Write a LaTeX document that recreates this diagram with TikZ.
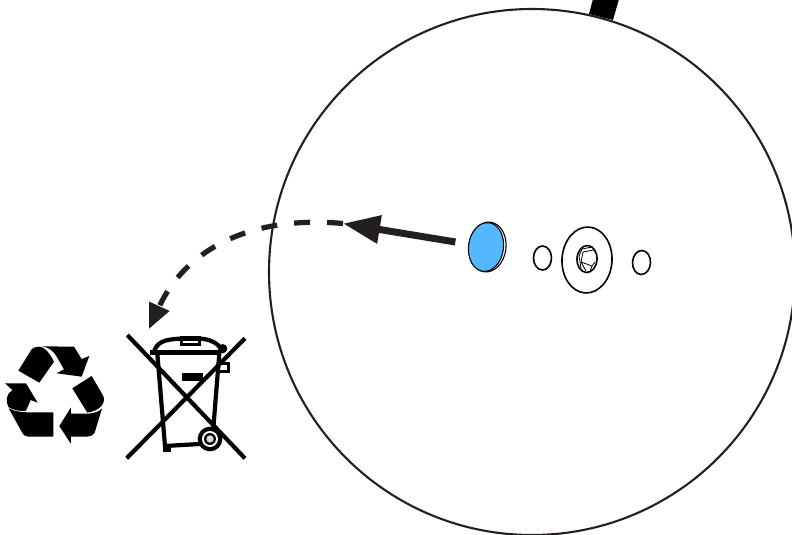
\documentclass[tikz,border=0pt]{standalone}
\usepackage{tikz}
\usetikzlibrary{positioning, arrows.meta, shapes.geometric}
\definecolor{inkdark}{HTML}{231F20}
\definecolor{capblue}{HTML}{53B8FF}

\begin{document}
\begin{tikzpicture}[
    x=1pt, y=-1pt,
    ring/.style={ellipse, draw=black, line width=1.6pt, inner sep=0pt, fill=white},
    caprim/.style={ring, line width=1.1pt},
    capface/.style={ring, line width=1.1pt, fill=capblue},
    pushline/.style={draw=inkdark, line width=7pt, -{Triangle[length=37pt, width=27pt]}},
    dropline/.style={draw=inkdark, line width=5.2pt, dash pattern=on 16pt off 17pt,
        -{Triangle[length=25pt, width=21pt]}},
    binline/.style={line width=4.2pt, line cap=butt, line join=miter},
    iconpart/.style={fill=black, draw=none}
]
\useasboundingbox (0,0) rectangle (792,535);
\clip (0,0) rectangle (792,535);

\draw[line width=2.1pt, draw=inkdark] (532,272) circle (263);
\fill[black] (593,-1) -- (619,-1) -- (613,20) -- (589,14) -- cycle;

\node[caprim, minimum width=37pt, minimum height=50pt, rotate=-7] (caprim) at (487.5,247) {};
\node[capface, minimum width=35pt, minimum height=49pt, rotate=-7] (cap) at (486,247) {};
\node[ring, minimum width=18pt, minimum height=24pt] (oringa) at (542.5,258) {};
\node[ring, minimum width=50pt, minimum height=66pt, rotate=-3] (washer) at (587,260) {};
\node[ring, minimum width=20pt, minimum height=27pt, rotate=-3] (bolt) at (587,259) {};
\node[ring, minimum width=18pt, minimum height=24pt, rotate=-3] (oringb) at (641.5,262.5) {};

\draw[line width=0.8pt] (582,249) -- (592,247) -- (596,253) (582,249) -- (579,256) (579,256) -- (581,268);
\draw[line width=0.8pt] (583,252) -- (594,250) (583,252) -- (581,262) -- (586,271) (581,262) -- (592,266) -- (595,262);
\draw[line width=0.8pt] (592,266) -- (590,271);

\coordinate (turn) at (343,223.5);
\coordinate (bintop) at (149,329);

\draw[pushline, shorten <=13pt] (cap) -- (turn);
\draw[dropline] (turn) .. controls (250,215) and (185,250) .. (bintop);

\begin{scope}[shift={(0,320)}, x=0.3333pt, y=-0.3333pt]
% recycling arrows
\path[iconpart] (55,152) -- (95,88) .. controls (103,80) and (115,79) .. (125,81)
    .. controls (140,88) and (152,105) .. (162,125) -- (118,188) -- cycle;
\path[iconpart] (127,79) -- (222,80) -- (245,117) -- (268,108) -- (245,170) -- (170,160)
    -- (192,148) -- (170,110) .. controls (160,92) and (148,84) .. (127,79) -- cycle;
\path[iconpart] (217,205) -- (275,168) -- (310,228) .. controls (318,250) and (300,272) .. (262,278) -- cycle;
\path[iconpart] (306,266) .. controls (292,278) and (275,281) .. (262,281) -- (213,281) -- (213,262)
    -- (178,318) -- (213,372) -- (213,350) -- (262,350) .. controls (272,350) and (280,345) .. (284,338) -- cycle;
\path[iconpart] (15,190) -- (78,190) -- (113,248) -- (92,240) -- (78,272)
    .. controls (60,275) and (40,270) .. (26,262) .. controls (15,240) and (20,222) .. (37,210) -- cycle;
\path[iconpart] (26,265) .. controls (45,275) and (65,277) .. (90,277) -- (160,277) -- (160,350) -- (85,350)
    .. controls (75,350) and (70,345) .. (65,335) -- cycle;

% crossed out bin
\draw[binline] (382,45) -- (735,415);
\draw[binline] (380,415) -- (735,55);
\draw[binline] (472,100) -- (495,378) -- (600,372);
\draw[binline] (658,100) -- (640,325);
\draw[binline, line width=5pt] (450,96) -- (662,96);
\draw[binline] (462,96) .. controls (470,68) and (490,58) .. (540,56) -- (605,56)
    .. controls (640,60) and (660,75) .. (668,96);
\draw[line width=3pt] (545,52) rectangle (600,72);
\fill[black] (668,86) circle (14);
\draw[line width=2.6pt] (657,130) -- (685,130) -- (685,155) -- (657,155);
\fill[black] (547,160) rectangle (610,182);
\fill[black] (490,375) rectangle (512,397);
\fill[black] (630,357) circle (37);
\fill[white] (630,357) circle (24);
\fill[black] (630,357) circle (18);
\fill[white!85!black] (630,357) circle (11);
\end{scope}
\end{tikzpicture}
\end{document}
